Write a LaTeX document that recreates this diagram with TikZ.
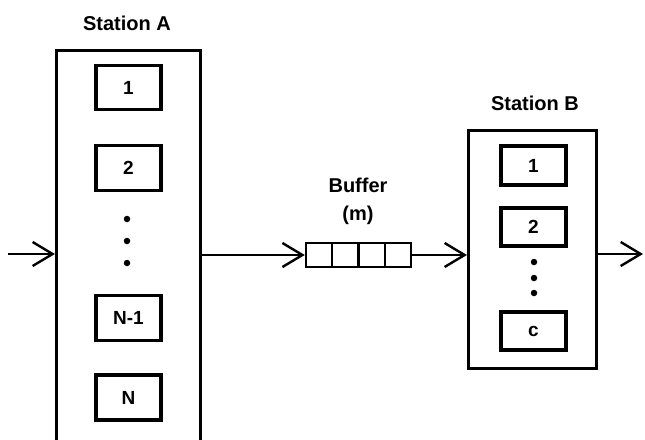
\documentclass[tikz,border=0pt]{standalone}
\usepackage{fontspec}
\setmainfont{Liberation Sans}
\usetikzlibrary{arrows.meta}

\begin{document}
\begin{tikzpicture}[x=1pt,y=-1pt]
		\tikzstyle{station} = [draw,line width=2.6pt,inner sep=0pt]
		\tikzstyle{server} = [draw,line width=3.8pt,minimum width=65pt,inner sep=0pt,font=\fontsize{19}{22}\selectfont\bfseries]
		\tikzstyle{cell} = [draw,line width=2.4pt,minimum width=26.25pt,minimum height=24pt,inner sep=0pt]
		\tikzstyle{dot} = [fill,shape=circle,minimum size=6.5pt,inner sep=0pt]
		\tikzstyle{title} = [font=\fontsize{20}{28}\selectfont\bfseries,align=center]
		\tikzstyle{flow} = [line width=2.4pt,-{Straight Barb[length=20pt,width=24pt,line width=2.4pt]}]
		\useasboundingbox (0,0) rectangle (645,439);
		% Station A
		\node[title] at (127,23)(labA) {Station A};
		\node[station,minimum width=144.5pt,minimum height=393pt] at (128.5,247)(stA) {};
		\node[server,minimum height=44pt] at (128.5,87.5)(a1) {1};
		\node[server,minimum height=45pt] at (128.5,168)(a2) {2};
		\node[dot] at (127,219)(da1) {};
		\node[dot] at (127,241)(da2) {};
		\node[dot] at (127,263)(da3) {};
		\node[server,minimum height=45pt] at (128.5,318)(a3) {N-1};
		\node[server,minimum height=45pt] at (128.5,397.5)(a4) {N};
		% Buffer
		\node[title] at (358,201)(labBuf) {Buffer\\(m)};
		\node[cell] at (319.1,255)(c1) {};
		\node[cell] at (345.4,255)(c2) {};
		\node[cell] at (371.6,255)(c3) {};
		\node[cell] at (397.9,255)(c4) {};
		% Station B
		\node[title] at (535,103)(labB) {Station B};
		\node[station,minimum width=128.5pt,minimum height=238.5pt] at (532.5,249.5)(stB) {};
		\node[server,minimum height=39pt] at (533.5,165.5)(b1) {1};
		\node[server,minimum height=38pt] at (533.5,227)(b2) {2};
		\node[dot] at (534,262)(db1) {};
		\node[dot] at (534,278)(db2) {};
		\node[dot] at (534,293)(db3) {};
		\node[server,minimum height=38pt] at (533.5,331)(b3) {c};
		% Flow
		\coordinate (in) at (8,254);
		\coordinate (out) at (643,254);
		\draw[flow] (in) -- (in -| stA.west);
		\draw[flow] (stA.east |- c1.west) -- (c1.west);
		\draw[flow] (c4.east) -- (c4.east -| stB.west);
		\draw[flow] (stB.east |- out) -- (out);
\end{tikzpicture}
\end{document}
